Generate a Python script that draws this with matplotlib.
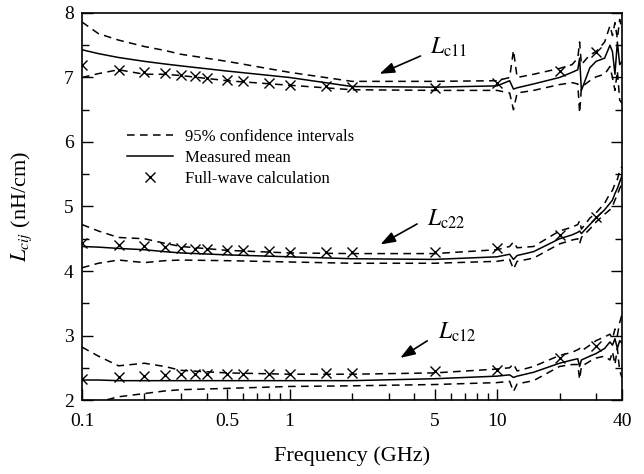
import matplotlib
matplotlib.use('Agg')
import matplotlib.pyplot as plt
from matplotlib.ticker import FixedLocator, LogLocator, MultipleLocator, NullFormatter

plt.rcParams['font.family'] = ['Liberation Serif', 'DejaVu Serif']
plt.rcParams['mathtext.fontset'] = 'stix'

# measured curves share one frequency grid (GHz)
freq = [0.1, 0.12, 0.15, 0.2, 0.25, 0.3, 0.5, 1, 2, 5, 10, 11.5, 12, 12.5, 15,
        20, 23, 24.5, 25, 25.5, 28, 30, 33, 35, 36, 37, 38, 39, 40]

lc11_mean = [7.43, 7.37, 7.31, 7.25, 7.21, 7.18, 7.10, 7.00, 6.86, 6.85, 6.87, 6.95, 6.82, 6.84, 6.90,
             7.00, 7.08, 7.12, 7.30, 6.80, 7.15, 7.25, 7.30, 7.50, 7.40, 7.05, 7.55, 7.20, 7.25]
lc11_up = [7.86, 7.68, 7.58, 7.48, 7.42, 7.36, 7.25, 7.08, 6.94, 6.94, 6.95, 7.00, 7.42, 7.00, 7.05,
           7.14, 7.20, 7.30, 7.55, 7.20, 7.35, 7.40, 7.55, 7.80, 7.65, 7.85, 7.60, 7.90, 7.75]
lc11_lo = [7.00, 7.06, 7.12, 7.05, 7.05, 7.03, 6.95, 6.88, 6.81, 6.80, 6.80, 6.76, 6.50, 6.76, 6.80,
           6.89, 6.92, 6.90, 6.45, 6.85, 6.95, 7.01, 7.05, 7.17, 7.00, 6.80, 7.10, 6.65, 6.60]

lc22_mean = [4.38, 4.37, 4.35, 4.33, 4.30, 4.28, 4.25, 4.22, 4.19, 4.18, 4.22, 4.26, 4.18, 4.24, 4.30,
             4.50, 4.56, 4.60, 4.62, 4.58, 4.72, 4.82, 4.95, 5.05, 5.10, 5.20, 5.28, 5.38, 5.48]
lc22_up = [4.72, 4.62, 4.52, 4.50, 4.43, 4.38, 4.32, 4.28, 4.27, 4.27, 4.33, 4.38, 4.45, 4.36, 4.38,
           4.62, 4.68, 4.72, 4.78, 4.65, 4.82, 4.90, 5.05, 5.20, 5.25, 5.35, 5.42, 5.55, 5.62]
lc22_lo = [4.05, 4.12, 4.17, 4.13, 4.16, 4.17, 4.16, 4.14, 4.12, 4.12, 4.15, 4.18, 4.03, 4.15, 4.20,
           4.42, 4.48, 4.50, 4.42, 4.52, 4.65, 4.76, 4.88, 4.95, 5.00, 5.10, 5.18, 5.28, 5.35]

lc12_mean = [2.31, 2.31, 2.30, 2.30, 2.30, 2.30, 2.30, 2.30, 2.30, 2.33, 2.37, 2.39, 2.35, 2.37, 2.43,
             2.57, 2.62, 2.64, 2.52, 2.62, 2.68, 2.72, 2.80, 2.90, 2.85, 2.95, 2.80, 2.92, 2.88]
lc12_up = [2.82, 2.68, 2.53, 2.57, 2.52, 2.46, 2.42, 2.40, 2.40, 2.42, 2.48, 2.50, 2.56, 2.45, 2.52,
           2.69, 2.74, 2.78, 2.80, 2.76, 2.85, 2.92, 2.98, 3.02, 2.95, 3.10, 3.00, 3.20, 3.33]
lc12_lo = [1.90, 1.97, 2.05, 2.10, 2.14, 2.16, 2.18, 2.21, 2.22, 2.24, 2.27, 2.29, 2.13, 2.25, 2.30,
           2.52, 2.55, 2.55, 2.32, 2.52, 2.60, 2.65, 2.68, 2.62, 2.75, 2.55, 2.80, 2.45, 2.35]

# full-wave calculation points
freq_fw = [0.1, 0.15, 0.2, 0.25, 0.3, 0.35, 0.4, 0.5, 0.6, 0.8, 1, 1.5, 2, 5, 10, 20, 30]
lc11_fw = [7.20, 7.12, 7.09, 7.07, 7.04, 7.02, 6.99, 6.96, 6.94, 6.91, 6.89, 6.87, 6.85, 6.84, 6.91, 7.10, 7.40]
lc22_fw = [4.43, 4.40, 4.39, 4.37, 4.35, 4.34, 4.34, 4.33, 4.32, 4.31, 4.30, 4.29, 4.29, 4.30, 4.35, 4.56, 4.84]
lc12_fw = [2.33, 2.36, 2.37, 2.39, 2.40, 2.40, 2.40, 2.41, 2.41, 2.41, 2.41, 2.42, 2.42, 2.45, 2.47, 2.65, 2.84]

xtick_vals = [0.1, 0.5, 1, 5, 10, 40]
xtick_labels = ['0.1', '0.5', '1', '5', '10', '40']

fig = plt.figure(figsize=(6.44, 4.74), dpi=100)
ax = fig.add_axes([0.1273, 0.1561, 0.8385, 0.8165])

dash = (0, (5, 3.5))
for mean, up, lo, fw in [(lc11_mean, lc11_up, lc11_lo, lc11_fw),
                         (lc22_mean, lc22_up, lc22_lo, lc22_fw),
                         (lc12_mean, lc12_up, lc12_lo, lc12_fw)]:
    ax.plot(freq, up, color='k', lw=1.1, linestyle=dash)
    ax.plot(freq, lo, color='k', lw=1.1, linestyle=dash)
    ax.plot(freq, mean, color='k', lw=1.1)
    ax.plot(freq_fw, fw, linestyle='none', marker='x', color='k', ms=7.5, mew=1.0)

ax.set_xscale('log')
ax.set_xlim(0.1, 40)
ax.set_ylim(2, 8)
ax.xaxis.set_major_locator(FixedLocator(xtick_vals))
ax.set_xticklabels(xtick_labels)
ax.xaxis.set_minor_locator(LogLocator(base=10, subs=range(1, 10)))
ax.xaxis.set_minor_formatter(NullFormatter())
ax.yaxis.set_major_locator(MultipleLocator(1))
ax.yaxis.set_minor_locator(MultipleLocator(0.5))
ax.tick_params(which='both', direction='in', labelsize=14, right=True, top=False)
ax.tick_params(which='major', length=8, width=1)
ax.tick_params(which='minor', length=5, width=1)
ax.tick_params(axis='x', pad=9)
ax.tick_params(axis='y', pad=6)
for s in ax.spines.values():
    s.set_linewidth(1.2)

ax.set_xlabel('Frequency (GHz)', fontsize=16)
ax.xaxis.set_label_coords(0.5, -0.12)
ax.set_ylabel(r'$L_{cij}$ (nH/cm)', fontsize=16)
ax.yaxis.set_label_coords(-0.088, 0.5)

# curve labels with arrows
arrow = dict(arrowstyle='-|>,head_length=0.9,head_width=0.32', color='k', lw=1.2)
ax.text(4.75, 7.46, r'$L_{\mathrm{c11}}$', fontsize=17, ha='left', va='center')
ax.annotate('', xy=(2.64, 7.04), xytext=(4.4, 7.35), arrowprops=arrow)
ax.text(4.6, 4.80, r'$L_{\mathrm{c22}}$', fontsize=17, ha='left', va='center')
ax.annotate('', xy=(2.67, 4.39), xytext=(4.23, 4.75), arrowprops=arrow)
ax.text(5.2, 3.05, r'$L_{\mathrm{c12}}$', fontsize=17, ha='left', va='center')
ax.annotate('', xy=(3.33, 2.63), xytext=(4.73, 2.94), arrowprops=arrow)

# legend
h1, = ax.plot([], [], color='k', lw=1.1, linestyle=dash)
h2, = ax.plot([], [], color='k', lw=1.1)
h3, = ax.plot([], [], linestyle='none', marker='x', color='k', ms=7, mew=1.0)
ax.legend([h1, h2, h3], ['95% confidence intervals', 'Measured mean', 'Full-wave calculation'],
          loc='upper left', bbox_to_anchor=(0.055, 0.74), frameon=False, fontsize=12,
          handlelength=2.8, handletextpad=0.7, labelspacing=0.3)

fig.savefig('out.png', dpi=100)
